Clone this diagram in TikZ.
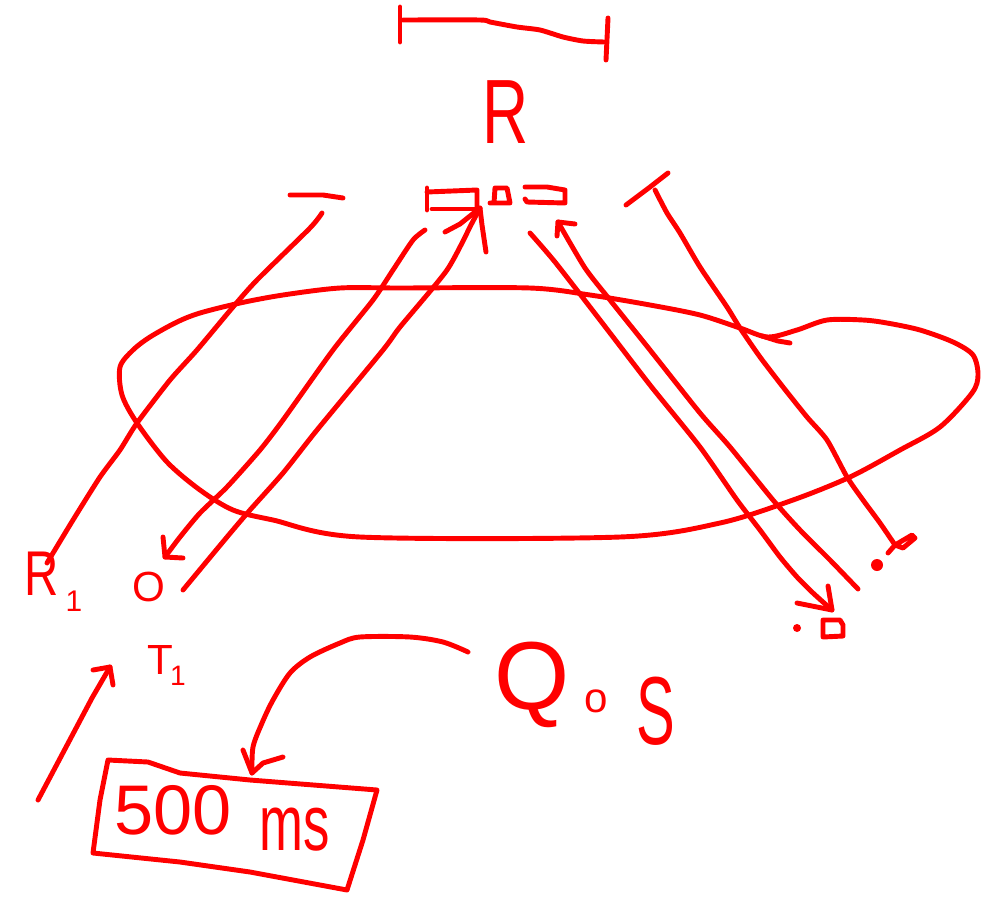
\documentclass[tikz,border=0pt]{standalone}
\usepackage{fontspec}
\setmainfont{Liberation Sans}
\definecolor{pen}{RGB}{255,0,0}
\begin{document}
\begin{tikzpicture}[x=0.02cm,y=-0.02cm,
  sk/.style={draw=pen, line width=2.8pt, line cap=round, line join=round},
  lab/.style={text=pen, inner sep=0pt},
  fs/.style={font=\fontsize{#1}{#1}\selectfont}]
\useasboundingbox (0,0) rectangle (993,896);

% ---- scale bar at top ----
\coordinate (barL) at (403,20);
\coordinate (barR) at (604,42);
\draw[sk] (400,7) -- (400,42);
\draw[sk] (608,18) -- (606,60);
\draw[sk] plot[smooth, tension=0.4] coordinates {(barL) (480,20) (490,22) (517,27) (540,30) (563,37) (583,41) (barR)};

% ---- labels ----
\node[lab, fs=52] (R) at (506,112) {\scalebox{0.7}[1]{R}};
\node[lab, fs=36] (R1) at (42,574) {\scalebox{0.75}[1]{R}};
\node[lab, fs=17] (R1sub) at (74,601) {1};
\node[lab, fs=24] (O) at (149,587) {O};
\node[lab, fs=24] (T1) at (160,660) {T};
\node[lab, fs=16] (T1sub) at (178,676) {1};
\node[lab, fs=55] (Q) at (532,685) {Q};
\node[lab, fs=24] (Qo) at (596,701) {o};
\node[lab, fs=55] (S) at (656,711) {\scalebox{0.6}[1]{S}};
\node[lab, fs=40] (five) at (173,810) {500};
\node[lab, fs=30] (ms) at (295,830) {\scalebox{1}[1.5]{ms}};

% ---- small marks in the top row ----
\draw[sk] (290,195) -- (323,195) -- (343,198);
\draw[sk] (427,188) -- (427,210);
\draw[sk] (427,192) -- (477,190) -- (477,209);
\draw[sk] (432,209) -- (480,209);
\draw[sk] (490,203) -- (510,203) -- (507,188) -- (495,188) -- (494,203);
\draw[sk] (525,187) -- (547,187) -- (565,190) -- (565,203) -- (527,202) -- (525,199);
\draw[sk] (626,205) -- (650,187) -- (668,173);

% ---- small marks at the lower right ----
\fill[pen] (797,628) circle (4);
\draw[sk] (823,620) -- (840,620) -- (843,625) -- (843,636) -- (823,637) -- cycle;

% ---- big closed curve ----
\draw[sk] plot[smooth cycle, tension=0.5] coordinates {
 (340,288) (400,288) (530,288) (590,295) (650,305) (700,315) (740,328)
 (768,337) (797,330) (827,320) (863,320) (887,323) (920,330) (953,342)
 (973,355) (978,375) (972,393) (940,427) (900,450) (850,477) (793,500)
 (720,523) (620,537) (360,537) (273,520) (233,510) (200,490) (167,462)
 (137,423) (122,395) (120,367) (133,350) (150,337) (177,322) (200,313)
 (240,303) (283,295)};
\draw[sk] (762,336) -- (778,341) -- (790,343);

% ---- connectors ----
% A: top-left dash to R1
\coordinate (aS) at (322,213);
\coordinate (aE) at (47,563);
\draw[sk] plot[smooth, tension=0.4] coordinates {(aS) (310,228) (257,280) (233,307) (197,350) (170,380) (137,423) (120,450) (100,477) (73,520) (aE)};

% B: box to O (arrow down-left)
\coordinate (bS) at (425,230);
\coordinate (bE) at (165,557);
\draw[sk] plot[smooth, tension=0.4] coordinates {(bS) (413,240) (393,270) (373,300) (333,350) (283,420) (260,450) (227,487) (200,513) (180,537) (bE)};
\draw[sk] (163,537) -- (bE) -- (183,558);

% C: O to box (arrow up)
\coordinate (cS) at (183,590);
\coordinate (cE) at (480,208);
\draw[sk] plot[smooth, tension=0.4] coordinates {(cS) (227,537) (250,510) (283,473) (317,430) (383,350) (400,327) (447,270) (472,223) (cE)};
\draw[sk] (445,232) -- (460,224) -- (cE) -- (482,225) -- (486,252);

% D: top to lower-right square (arrow down-right)
\coordinate (dS) at (530,233);
\coordinate (dE) at (832,610);
\draw[sk] plot[smooth, tension=0.4] coordinates {(dS) (555,262) (600,320) (650,385) (700,447) (737,500) (760,530) (780,557) (797,577) (813,593) (dE)};
\draw[sk] (797,603) -- (dE) -- (828,586);

% E: lower right to top (arrow up)
\coordinate (eS) at (858,589);
\coordinate (eE) at (558,222);
\draw[sk] plot[smooth, tension=0.4] coordinates {(eS) (830,560) (800,530) (773,500) (730,447) (700,413) (650,350) (610,300) (585,268) (eE)};
\draw[sk] (557,236) -- (eE) -- (575,224);

% F: top-right slash to diamond
\coordinate (fS) at (655,190);
\coordinate (fE) at (895,545);
\draw[sk] plot[smooth, tension=0.4] coordinates {(fS) (667,213) (680,233) (700,267) (727,307) (740,328) (760,357) (783,387) (807,417) (827,440) (847,477) (863,500) (880,523) (fE)};
\draw[sk] (888,553) -- (fE) -- (912,535) -- (915,538) -- (903,548) -- (fE);
\fill[pen] (877,565) circle (6);

% G: arrow from lower left up to T1
\coordinate (gS) at (38,800);
\coordinate (gE) at (110,667);
\draw[sk] (gS) -- (92,698) -- (gE);
\draw[sk] (93,670) -- (gE) -- (113,685);

% H: curved arrow from QoS to the box
\coordinate (hS) at (468,652);
\coordinate (hE) at (252,773);
\draw[sk] plot[smooth, tension=0.5] coordinates {(hS) (443,642) (410,637) (360,637) (340,643) (310,657) (290,673) (273,700) (262,723) (253,747) (hE)};
\draw[sk] (243,750) -- (hE) -- (263,763) -- (283,757);

% ---- box around 500 ms ----
\draw[sk] (108,760) -- (148,762) -- (180,773) -- (250,780) -- (377,790)
  -- (363,840) -- (347,890) -- (250,872) -- (180,862) -- (93,853) -- (100,800) -- cycle;
\end{tikzpicture}
\end{document}
